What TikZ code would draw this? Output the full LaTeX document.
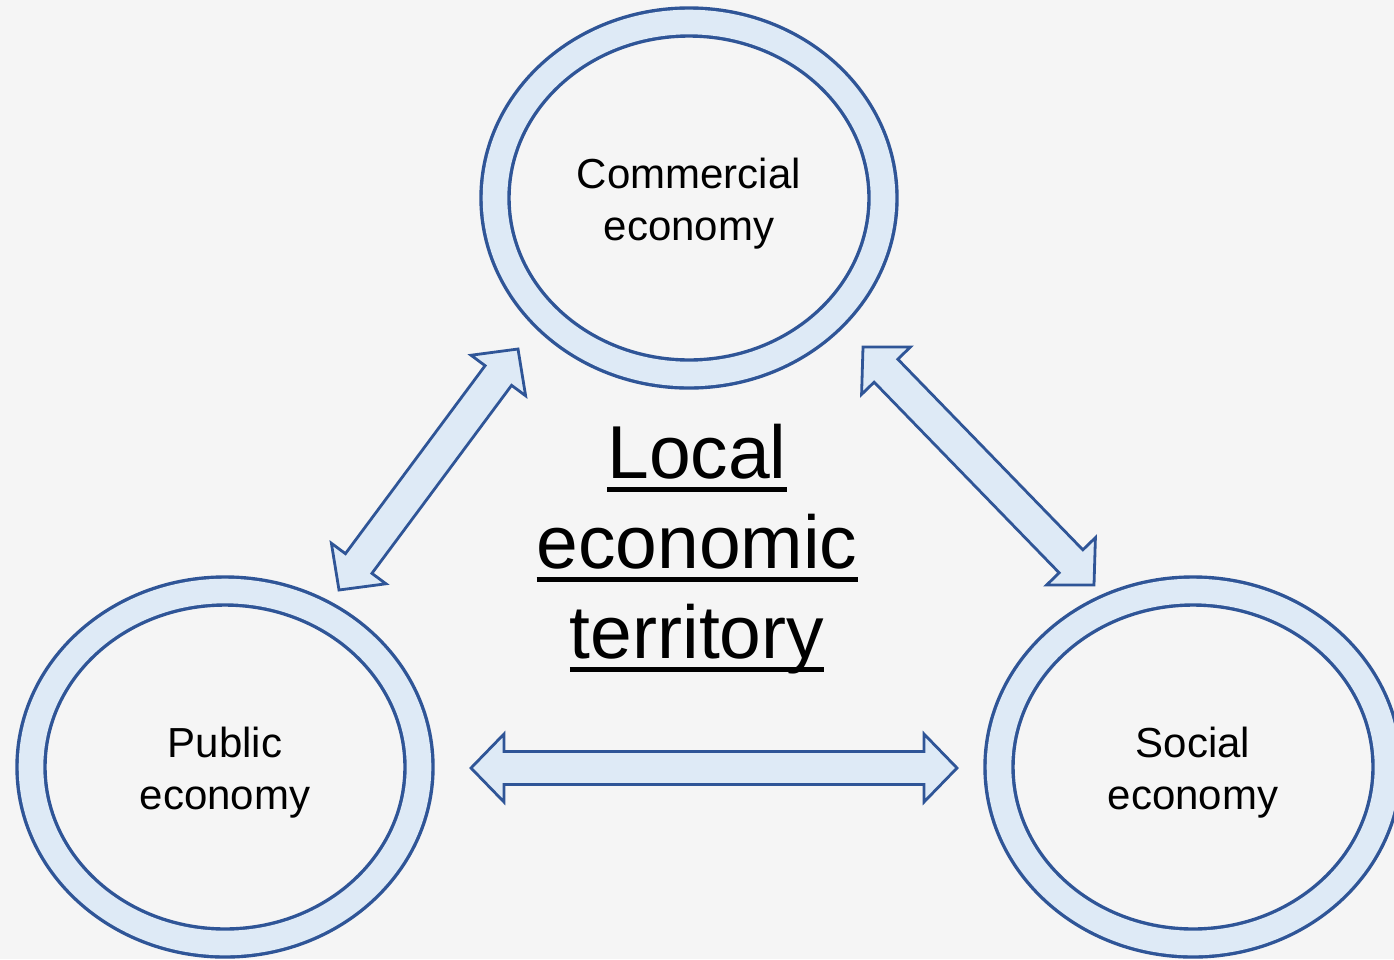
\documentclass[tikz,border=0pt]{standalone}
\usepackage{fontspec}
\setmainfont{Liberation Sans}
\usetikzlibrary{shapes.geometric,calc}

\definecolor{paper}{HTML}{F5F5F5}
\definecolor{ringfill}{HTML}{DEEAF6}
\definecolor{ringline}{HTML}{2F5597}

% underline drawn as a rule under the word, not taking any vertical space
\newcommand\ulword[1]{\setbox0\hbox{#1}\rlap{\smash{\raisebox{-14pt}{\rule{\wd0}{5pt}}}}\box0}

% block double arrow between two named points
\newcommand\headlen{33}
\newcommand\headhalf{34}
\newcommand\shafthalf{16.5}
\newcommand\blockarrow[2]{%
  \path[blockarrow] let \p1=(#1), \p2=(#2),
      \n1={veclen(\x2-\x1,\y2-\y1)},
      \n2={(\x2-\x1)/\n1}, \n3={(\y2-\y1)/\n1}
    in (\p1)
    -- ({\x1+(\headlen*\n2-\headhalf*\n3)*1pt},{\y1+(\headlen*\n3+\headhalf*\n2)*1pt})
    -- ({\x1+(\headlen*\n2-\shafthalf*\n3)*1pt},{\y1+(\headlen*\n3+\shafthalf*\n2)*1pt})
    -- ({\x2+(-\headlen*\n2-\shafthalf*\n3)*1pt},{\y2+(-\headlen*\n3+\shafthalf*\n2)*1pt})
    -- ({\x2+(-\headlen*\n2-\headhalf*\n3)*1pt},{\y2+(-\headlen*\n3+\headhalf*\n2)*1pt})
    -- (\p2)
    -- ({\x2+(-\headlen*\n2+\headhalf*\n3)*1pt},{\y2+(-\headlen*\n3-\headhalf*\n2)*1pt})
    -- ({\x2+(-\headlen*\n2+\shafthalf*\n3)*1pt},{\y2+(-\headlen*\n3-\shafthalf*\n2)*1pt})
    -- ({\x1+(\headlen*\n2+\shafthalf*\n3)*1pt},{\y1+(\headlen*\n3-\shafthalf*\n2)*1pt})
    -- ({\x1+(\headlen*\n2+\headhalf*\n3)*1pt},{\y1+(\headlen*\n3-\headhalf*\n2)*1pt})
    -- cycle;}

\tikzset{
  ring/.style={ellipse, inner sep=0pt, minimum width=388pt, minimum height=352pt,
    draw=ringline, line width=3.4pt, double=ringfill, double distance=24.6pt},
  ringtext/.style={align=center, font=\fontsize{42}{52}\selectfont},
  blockarrow/.style={draw=ringline, fill=ringfill, line width=2.8pt, line join=miter},
  title/.style={align=center, font=\fontsize{75}{90}\selectfont}
}

\begin{document}
\begin{tikzpicture}[x=1pt,y=-1pt]
  \fill[paper] (0,0) rectangle (1394,959);
  \useasboundingbox (0,0) rectangle (1394,959);
  \clip (0,0) rectangle (1394,959);

  % the three economies
  \node[ring] (commercial) at (689,198) {};
  \node[ring] (public) at (225,767) {};
  \node[ring] (social) at (1193,767) {};
  \node[ringtext] (commercial text) at ($(commercial.center)+(0,6)$) {Commercial\\economy};
  \node[ringtext] (public text) at ($(public.center)+(0,6)$) {Public\\economy};
  \node[ringtext] (social text) at ($(social.center)+(0,6)$) {Social\\economy};

  % centre title
  \node[title] (territory) at (697,549) {\ulword{Local}\\\ulword{economic}\\\ulword{territory}};

  % arrow end points
  \coordinate (cp) at (518,349);
  \coordinate (pc) at (339,590);
  \coordinate (cs) at (863,347);
  \coordinate (sc) at (1094,585);
  \coordinate (ps) at (471,768);
  \coordinate (sp) at (957,768);

  \blockarrow{pc}{cp}
  \blockarrow{cs}{sc}
  \blockarrow{ps}{sp}
\end{tikzpicture}
\end{document}
